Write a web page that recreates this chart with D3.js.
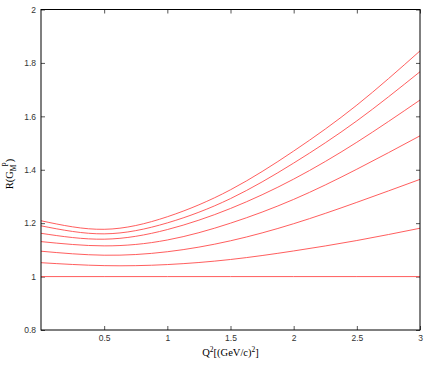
<!DOCTYPE html>
<html>
<head>
<meta charset="utf-8">
<script src="https://cdn.jsdelivr.net/npm/d3@7"></script>
<style>
  body { margin: 0; background: #fff; }
  svg { display: block; }
  .tick text { font-family: "Liberation Sans", Arial, sans-serif; font-size: 8.5px; fill: #333; }
  .lbl { font-family: "Liberation Serif", "Times New Roman", serif; font-size: 10.5px; fill: #000; }
</style>
</head>
<body>
<div id="chart"></div>
<script>
// Q^2 sample points and ratio curves
var q2 = [0, 0.5, 1.0, 1.5, 2.0, 2.5, 3.0];
var curve1 = [1.209, 1.177, 1.224, 1.325, 1.470, 1.642, 1.845];
var curve2 = [1.190, 1.160, 1.201, 1.292, 1.425, 1.583, 1.767];
var curve3 = [1.162, 1.140, 1.176, 1.255, 1.365, 1.503, 1.661];
var curve4 = [1.131, 1.115, 1.137, 1.200, 1.289, 1.402, 1.527];
var curve5 = [1.095, 1.080, 1.093, 1.134, 1.198, 1.278, 1.364];
var curve6 = [1.052, 1.041, 1.045, 1.064, 1.096, 1.135, 1.181];
var curve7 = [1, 1, 1, 1, 1, 1, 1];
var xTicks = [0.5, 1, 1.5, 2, 2.5, 3];
var yTicks = [0.8, 1, 1.2, 1.4, 1.6, 1.8, 2];

var width = 436, height = 366;
var margin = {top: 9.5, right: 16, bottom: 36, left: 41};

var svg = d3.select("#chart").append("svg")
    .attr("width", width)
    .attr("height", height);

var x = d3.scaleLinear().domain([0, 3]).range([margin.left, width - margin.right]);
var y = d3.scaleLinear().domain([0.8, 2]).range([height - margin.bottom, margin.top]);

var fmt = function(d) { return d3.format("")(+d.toFixed(1)); };

// axes, ticks point inward and are mirrored on the other sides
var axBottom = svg.append("g")
    .attr("transform", "translate(0," + y(0.8) + ")")
    .call(d3.axisBottom(x).tickValues(xTicks).tickSize(-4).tickPadding(5).tickFormat(fmt));
var axTop = svg.append("g")
    .attr("transform", "translate(0," + y(2) + ")")
    .call(d3.axisTop(x).tickValues(xTicks).tickSize(-4).tickFormat(""));
var axLeft = svg.append("g")
    .attr("transform", "translate(" + x(0) + ",0)")
    .call(d3.axisLeft(y).tickValues(yTicks).tickSize(-4).tickPadding(5).tickFormat(fmt));
var axRight = svg.append("g")
    .attr("transform", "translate(" + x(3) + ",0)")
    .call(d3.axisRight(y).tickValues(yTicks).tickSize(-4).tickFormat(""));

[axBottom, axTop, axLeft, axRight].forEach(function(g) {
    g.select(".domain").remove();
    g.selectAll(".tick line").attr("stroke", "#555");
});

// curves
var series = [curve1, curve2, curve3, curve4, curve5, curve6, curve7];
var line = d3.line()
    .x(function(d, i) { return x(q2[i]); })
    .y(function(d) { return y(d); })
    .curve(d3.curveNatural);

svg.append("g").selectAll("path")
    .data(series)
    .enter().append("path")
    .attr("d", line)
    .attr("fill", "none")
    .attr("stroke", "#ff4c4c")
    .attr("stroke-width", 0.9);

// frame
svg.append("rect")
    .attr("x", x(0)).attr("y", y(2))
    .attr("width", x(3) - x(0)).attr("height", y(0.8) - y(2))
    .attr("fill", "none")
    .attr("stroke", "#000")
    .attr("stroke-width", 1);

// axis titles
var xl = svg.append("text")
    .attr("class", "lbl")
    .attr("x", (x(0) + x(3)) / 2)
    .attr("y", 356)
    .attr("text-anchor", "middle");
xl.append("tspan").text("Q");
xl.append("tspan").attr("dy", -4).attr("font-size", "7.5px").text("2");
xl.append("tspan").attr("dy", 4).text("[(GeV/c)");
xl.append("tspan").attr("dy", -4).attr("font-size", "7.5px").text("2");
xl.append("tspan").attr("dy", 4).text("]");

var yl = svg.append("text")
    .attr("class", "lbl")
    .attr("transform", "translate(13," + 174 + ") rotate(-90)")
    .attr("text-anchor", "middle");
yl.append("tspan").text("R(G");
yl.append("tspan").attr("dy", 3).attr("font-size", "7.5px").text("M");
yl.append("tspan").attr("dy", -8).attr("dx", -2).attr("font-size", "7.5px").text("P");
yl.append("tspan").attr("dy", 5).text(")");
</script>
</body>
</html>
